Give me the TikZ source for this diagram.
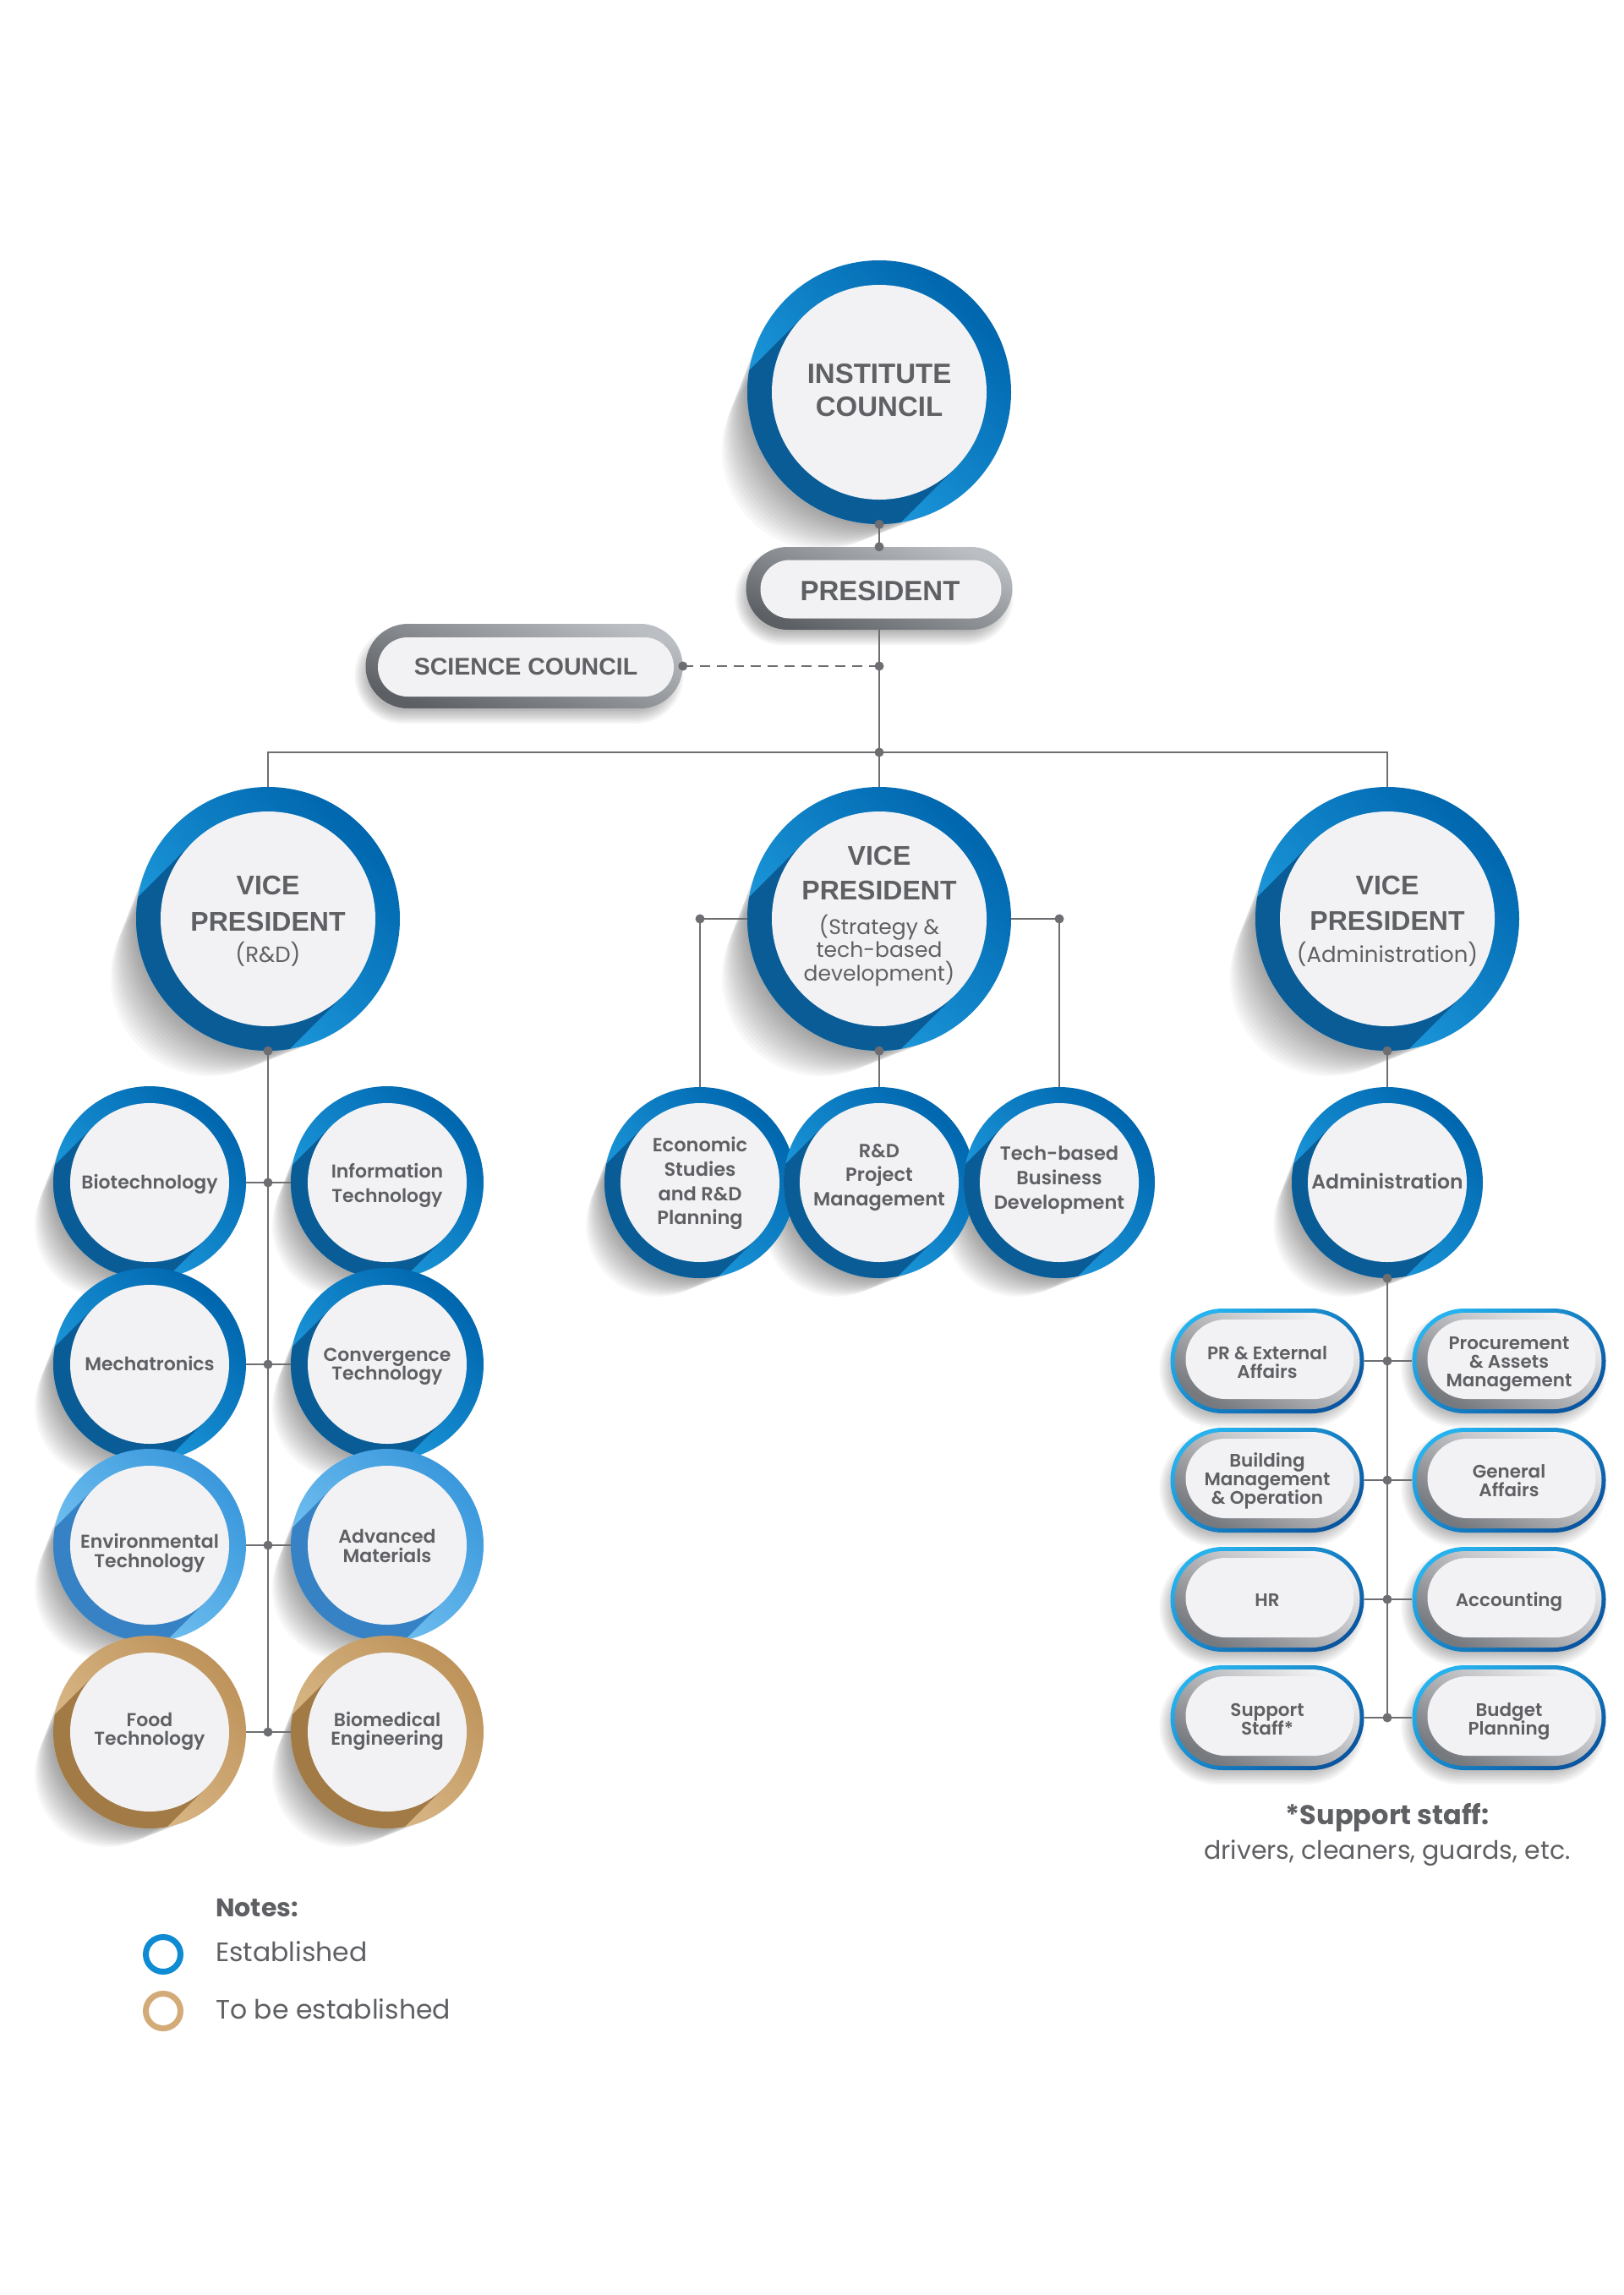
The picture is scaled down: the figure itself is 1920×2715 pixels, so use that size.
\documentclass[tikz,border=0pt]{standalone}
\usepackage{fontspec}
\usetikzlibrary{calc}
\setmainfont{Liberation Sans}
\newfontfamily\fHead{Liberation Sans}
\newfontfamily\fReg{Poppins}
\IfFontExistsTF{Poppins SemiBold}{\newfontfamily\fLab{Poppins SemiBold}}{\newfontfamily\fLab{Poppins}[FakeBold=1.2]}
\IfFontExistsTF{Poppins Bold}{\newfontfamily\fBld{Poppins Bold}}{\newfontfamily\fBld{Poppins}[FakeBold=2]}
\newcommand\fsz[1]{\fontsize{#1}{#1}\selectfont}
\newcommand\ftH{\fHead\bfseries\fsz{33}}
\newcommand\ftVP{\fHead\bfseries\fsz{32}}
\newcommand\ftSC{\fHead\bfseries\fsz{28.5}}
\newcommand\ftSub{\fReg\fsz{26}}
\newcommand\ftSubS{\fReg\fsz{25}}
\newcommand\ftL{\fLab\fsz{22}}
\newcommand\ftM{\fLab\fsz{22.5}}
\newcommand\ftP{\fLab\fsz{21.5}}

\definecolor{txt}{HTML}{5F6064}
\definecolor{lnc}{HTML}{6D6E71}
\definecolor{diskc}{HTML}{F2F2F4}
\definecolor{bDark}{HTML}{0066AE}
\definecolor{bLight}{HTML}{22A2E4}
\definecolor{bShad}{HTML}{0A5C97}
\definecolor{lbDark}{HTML}{3A98DC}
\definecolor{lbLight}{HTML}{7CC8F4}
\definecolor{lbShad}{HTML}{3682C4}
\definecolor{tDark}{HTML}{BE935B}
\definecolor{tLight}{HTML}{DFC091}
\definecolor{tShad}{HTML}{A27A46}
\definecolor{gpL}{HTML}{BBBFC3}
\definecolor{gpD}{HTML}{5C6065}
\definecolor{rimL}{HTML}{25B2EE}
\definecolor{rimD}{HTML}{0A56A0}
\definecolor{gfD}{HTML}{76797E}
\definecolor{legB}{HTML}{0E8BD3}
\definecolor{legT}{HTML}{D3AB79}

\pgfdeclarelayer{bg}
\pgfdeclarelayer{shadow}
\pgfsetlayers{bg,shadow,main}

\tikzset{
  conn/.style={draw=lnc, line width=2.6pt},
  tline/.style={anchor=base, inner sep=0pt, text=txt},
  tlineW/.style={anchor=base west, inner sep=0pt, text=txt},
  hook/.style={inner sep=0pt, draw=none, rectangle},
}

% pill path: center x, y (down positive), width, height
\newcommand\pillp[4]{({(#1)+(#3)/2-(#4)/2},{-(#2)+(#4)/2}) arc[start angle=90, end angle=-90, radius={(#4)/2}] -- ++({-((#3)-(#4))},0) arc[start angle=270, end angle=90, radius={(#4)/2}] -- cycle}

% ring circle: name, x, y, R, r, scheme
\newcommand\ringc[6]{%
  \coordinate (#1-c) at (#2,-#3);
  \begin{pgfonlayer}{shadow}
    \foreach \k in {1,...,14}{
      \fill[black, opacity=0.028] ($(#1-c)+(225:{\k*0.045*#4})$) circle[radius={#4*(1-0.018*\k)}];
    }
  \end{pgfonlayer}
  \shade[top color=#6Dark, bottom color=#6Light, shading angle=-45] (#1-c) circle[radius=#4];
  \begin{scope}
    \clip (#1-c) circle[radius=#4];
    \fill[#6Shad] ($(#1-c)+(135:#5)$) -- ++(225:{2*#4}) -- ++(-45:{2*#5}) -- ($(#1-c)+(-45:#5)$) -- cycle;
  \end{scope}
  \fill[diskc] (#1-c) circle[radius=#5];
  \node[circle, minimum size={2*#4}, inner sep=0pt] (#1) at (#1-c) {};
}

% gray pill: name x y W H w h
\newcommand\gpill[7]{%
  \begin{pgfonlayer}{shadow}
    \foreach \k in {0,...,6}{
      \fill[black, opacity=0.045] \pillp{#2-6}{#3+11}{#4-16+5*\k}{#5-16+5*\k};
    }
  \end{pgfonlayer}
  \shade[top color=gpL, bottom color=gpD, shading angle=-20] \pillp{#2}{#3}{#4}{#5};
  \fill[diskc] \pillp{#2+2}{#3+1}{#6}{#7};
  \node[hook, minimum width=#4, minimum height=#5] (#1) at (#2,-#3) {};
}

% blue pill: name x y
\newcommand\bpill[3]{%
  \begin{pgfonlayer}{shadow}
    \foreach \k in {0,...,6}{
      \fill[black, opacity=0.04] \pillp{#2-6}{#3+10}{213+5*\k}{108+5*\k};
    }
  \end{pgfonlayer}
  \shade[top color=rimL, bottom color=rimD, shading angle=35] \pillp{#2}{#3}{229}{124};
  \shade[top color=diskc, bottom color=gfD, shading angle=-30] \pillp{#2}{#3}{219}{114};
  \fill[diskc] \pillp{#2+3}{#3-2}{199}{94};
  \node[hook, minimum width=229, minimum height=124] (#1) at (#2,-#3) {};
}

\newcommand\jdot[1]{\fill[lnc] (#1) circle[radius=5.5];}
\newcommand\tl[5]{\node[tline, font={#4}] (#1) at (#2,-#3) {#5};}
\newcommand\tlw[5]{\node[tlineW, font={#4}] (#1) at (#2,-#3) {#5};}

\begin{document}
\begin{tikzpicture}[x=1pt,y=1pt]
\begin{pgfonlayer}{bg}
  \fill[white] (0,0) rectangle (1920,-2715);
\end{pgfonlayer}
\useasboundingbox (0,0) rectangle (1920,-2715);

% ---------- shapes ----------
\ringc{ic}{1040}{464}{156}{127}{b}
\gpill{pres}{1040}{696}{315}{98}{285}{69}
\gpill{sc}{620}{788}{375}{100}{350}{70}
\ringc{vpa}{317}{1087}{156}{127}{b}
\ringc{vpb}{1040}{1087}{156}{127}{b}
\ringc{vpc}{1641}{1087}{156}{127}{b}

\ringc{bio}{177}{1399}{114}{94}{b}
\ringc{inf}{458}{1399}{114}{94}{b}
\ringc{mec}{177}{1614}{114}{94}{b}
\ringc{cvg}{458}{1614}{114}{94}{b}
\ringc{env}{177}{1828}{114}{94}{lb}
\ringc{adv}{458}{1828}{114}{94}{lb}
\ringc{fod}{177}{2049}{114}{94}{t}
\ringc{bme}{458}{2049}{114}{94}{t}

\ringc{eco}{828}{1399}{113}{94}{b}
\ringc{rdp}{1040}{1399}{113}{94}{b}
\ringc{tbb}{1253}{1399}{113}{94}{b}

\ringc{adm}{1641}{1399}{113}{94}{b}
\bpill{pra}{1499}{1610}
\bpill{pam}{1785}{1610}
\bpill{bmo}{1499}{1751}
\bpill{gaf}{1785}{1751}
\bpill{hrs}{1499}{1892}
\bpill{acc}{1785}{1892}
\bpill{sup}{1499}{2032}
\bpill{bud}{1785}{2032}

% ---------- connectors ----------
\coordinate (bar) at (1040,-890);
\draw[conn] (ic.south) -- (pres.north);
\jdot{ic.south} \jdot{pres.north}
\draw[conn] (pres.south) -- (vpb.north);
\draw[conn] (vpa.north) |- (bar) -| (vpc.north);
\jdot{bar}
\draw[conn, dash pattern=on 12pt off 8pt] (sc.east) -- (sc.east -| pres.south);
\jdot{sc.east} \jdot{sc.east -| pres.south}

% middle branch
\draw[conn] (vpb.west) -| (eco.north);
\draw[conn] (vpb.east) -| (tbb.north);
\draw[conn] (vpb.south) -- (rdp.north);
\jdot{vpb.west -| eco.north} \jdot{vpb.east -| tbb.north} \jdot{vpb.south}

% left branch
\draw[conn] (vpa.south) -- (vpa.south |- fod.east);
\jdot{vpa.south}
\draw[conn] (bio.east) -- (inf.west);
\draw[conn] (mec.east) -- (cvg.west);
\draw[conn] (env.east) -- (adv.west);
\draw[conn] (fod.east) -- (bme.west);
\jdot{vpa.south |- bio.east} \jdot{vpa.south |- mec.east}
\jdot{vpa.south |- env.east} \jdot{vpa.south |- fod.east}

% right branch
\draw[conn] (vpc.south) -- (adm.north);
\jdot{vpc.south}
\draw[conn] (adm.south) -- (adm.south |- sup.east);
\jdot{adm.south}
\draw[conn] (pra.east) -- (pam.west);
\draw[conn] (bmo.east) -- (gaf.west);
\draw[conn] (hrs.east) -- (acc.west);
\draw[conn] (sup.east) -- (bud.west);
\jdot{adm.south |- pra.east} \jdot{adm.south |- bmo.east}
\jdot{adm.south |- hrs.east} \jdot{adm.south |- sup.east}

% ---------- texts ----------
\tl{ict1}{1040}{453}{\ftH}{INSTITUTE}
\tl{ict2}{1040}{492}{\ftH}{COUNCIL}
\tl{prest}{1041}{710}{\ftH}{PRESIDENT}
\tl{sct}{622}{798}{\ftSC}{SCIENCE COUNCIL}

\tl{vpa1}{317}{1058}{\ftVP}{VICE}
\tl{vpa2}{317}{1101}{\ftVP}{PRESIDENT}
\tl{vpa3}{317}{1138}{\ftSub}{(R\&D)}

\tl{vpb1}{1040}{1023}{\ftVP}{VICE}
\tl{vpb2}{1040}{1064}{\ftVP}{PRESIDENT}
\tl{vpb3}{1040}{1105}{\ftSubS}{(Strategy \&}
\tl{vpb4}{1040}{1132}{\ftSubS}{tech-based}
\tl{vpb5}{1040}{1160}{\ftSubS}{development)}

\tl{vpc1}{1641}{1058}{\ftVP}{VICE}
\tl{vpc2}{1641}{1100}{\ftVP}{PRESIDENT}
\tl{vpc3}{1641}{1138}{\ftSub}{(Administration)}

\tl{biot}{177}{1406}{\ftL}{Biotechnology}
\tl{inft1}{458}{1393}{\ftL}{Information}
\tl{inft2}{458}{1422}{\ftL}{Technology}
\tl{mect}{177}{1621}{\ftL}{Mechatronics}
\tl{cvgt1}{458}{1610}{\ftL}{Convergence}
\tl{cvgt2}{458}{1632}{\ftL}{Technology}
\tl{envt1}{177}{1831}{\ftL}{Environmental}
\tl{envt2}{177}{1854}{\ftL}{Technology}
\tl{advt1}{458}{1825}{\ftL}{Advanced}
\tl{advt2}{458}{1848}{\ftL}{Materials}
\tl{fodt1}{177}{2042}{\ftL}{Food}
\tl{fodt2}{177}{2064}{\ftL}{Technology}
\tl{bmet1}{458}{2042}{\ftL}{Biomedical}
\tl{bmet2}{458}{2064}{\ftL}{Engineering}

\tl{ecot1}{828}{1362}{\ftM}{Economic}
\tl{ecot2}{828}{1391}{\ftM}{Studies}
\tl{ecot3}{828}{1420}{\ftM}{and R\&D}
\tl{ecot4}{828}{1448}{\ftM}{Planning}
\tl{rdpt1}{1040}{1369}{\ftM}{R\&D}
\tl{rdpt2}{1040}{1397}{\ftM}{Project}
\tl{rdpt3}{1040}{1426}{\ftM}{Management}
\tl{tbbt1}{1253}{1372}{\ftM}{Tech-based}
\tl{tbbt2}{1253}{1401}{\ftM}{Business}
\tl{tbbt3}{1253}{1430}{\ftM}{Development}

\tl{admt}{1641}{1406}{\fLab\fsz{23.5}}{Administration}

\tl{prat1}{1499}{1608}{\ftP}{PR \& External}
\tl{prat2}{1499}{1630}{\ftP}{Affairs}
\tl{pamt1}{1785}{1596}{\ftP}{Procurement}
\tl{pamt2}{1785}{1618}{\ftP}{\& Assets}
\tl{pamt3}{1785}{1640}{\ftP}{Management}
\tl{bmot1}{1499}{1735}{\ftP}{Building}
\tl{bmot2}{1499}{1757}{\ftP}{Management}
\tl{bmot3}{1499}{1779}{\ftP}{\& Operation}
\tl{gaft1}{1785}{1748}{\ftP}{General}
\tl{gaft2}{1785}{1770}{\ftP}{Affairs}
\tl{hrst}{1499}{1900}{\ftP}{HR}
\tl{acct}{1785}{1900}{\ftP}{Accounting}
\tl{supt1}{1499}{2030}{\ftP}{Support}
\tl{supt2}{1499}{2052}{\ftP}{Staff*}
\tl{budt1}{1785}{2030}{\ftP}{Budget}
\tl{budt2}{1785}{2052}{\ftP}{Planning}

\tl{note1}{1641}{2158}{\fBld\fsz{32}}{*Support staff:}
\tl{note2}{1641}{2199}{\fReg\fsz{30}}{drivers, cleaners, guards, etc.}

% ---------- legend ----------
\node[circle, draw=legB, line width=7pt, minimum size=41pt, inner sep=0pt] (lgb) at (193,-2312) {};
\node[circle, draw=legT, line width=7pt, minimum size=41pt, inner sep=0pt] (lgt) at (193,-2379) {};
\tlw{lgh}{255}{2267}{\fBld\fsz{30}}{Notes:}
\tlw{lg1}{255}{2320}{\fReg\fsz{31.5}}{Established}
\tlw{lg2}{255}{2388}{\fReg\fsz{31.5}}{To be established}
\end{tikzpicture}
\end{document}
